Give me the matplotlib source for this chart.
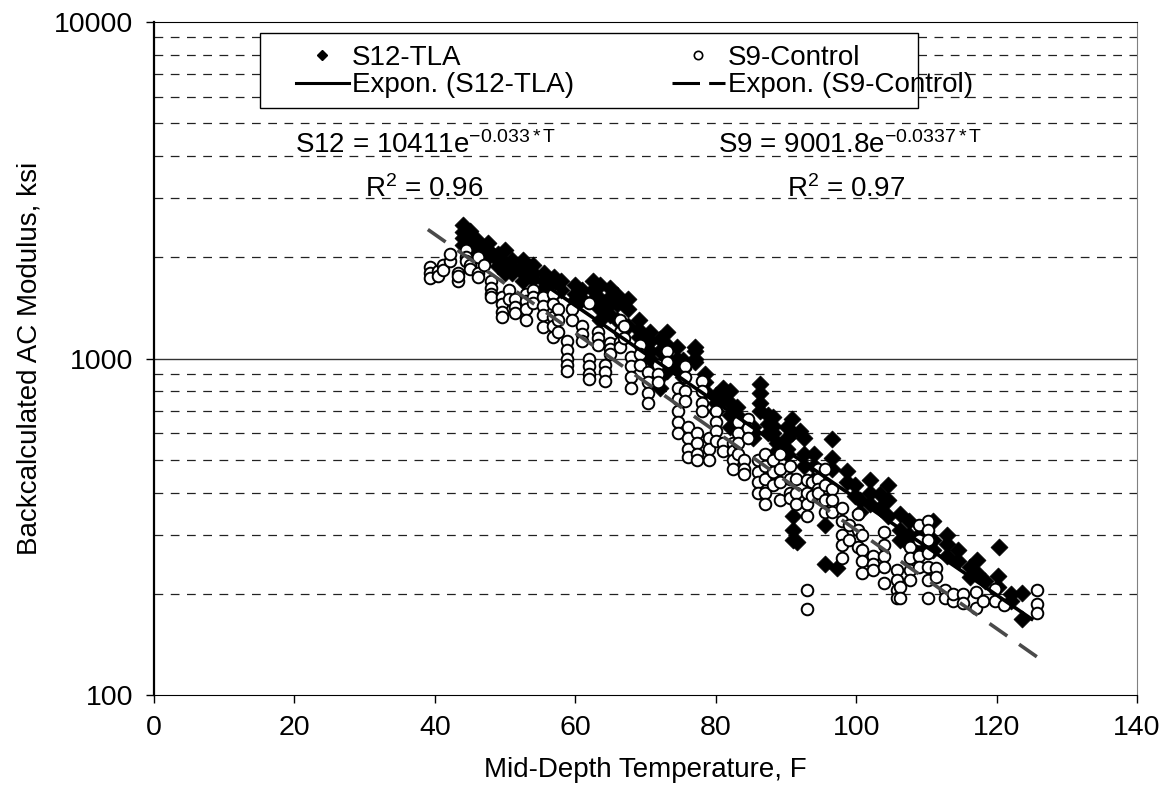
import numpy as np
import matplotlib
matplotlib.use("Agg")
import matplotlib.pyplot as plt
from matplotlib.lines import Line2D
from matplotlib.patches import Rectangle

plt.rcParams['font.family'] = ['Liberation Sans', 'DejaVu Sans']
plt.rcParams['mathtext.fontset'] = 'custom'
plt.rcParams['mathtext.rm'] = 'Liberation Sans'
plt.rcParams['mathtext.it'] = 'Liberation Sans'

# S9-Control: mid-depth temperature (F) -> backcalculated modulus (ksi)
s9_cols = [
    (39.3, [1870, 1800, 1740]), (40.5, [1820, 1760]), (41.2, [1900, 1830]),
    (42.2, [1950, 2050]), (43.3, [1800, 1700, 1760]), (44.5, [2100, 2000, 1950]),
    (45.0, [1900, 1850]), (46.2, [1800, 1750, 2000]), (47.0, [1900]),
    (48.0, [1700, 1620, 1560, 1520]), (49.6, [1520, 1450, 1380, 1330]),
    (50.5, [1600, 1500]), (51.4, [1500, 1420, 1370]), (53.0, [1560, 1480, 1400, 1300]),
    (54.0, [1600, 1520, 1460]), (55.4, [1520, 1430, 1350, 1240]),
    (56.8, [1560, 1450, 1330, 1250, 1160]), (57.5, [1400, 1300, 1200]),
    (58.8, [1130, 1060, 1000, 960, 920]), (59.5, [1400, 1300]), (61.0, [1250, 1180, 1130]),
    (62.0, [1460, 1000, 950, 900, 870]), (63.3, [1200, 1150, 1100]), (64.2, [960, 910, 860]),
    (65.0, [1115, 1070, 1030]), (66.4, [1300, 1200, 1120, 1080]), (67.0, [1250, 1150]),
    (68.0, [1010, 950, 880, 820]), (69.2, [1100, 1030, 960]), (70.4, [910, 850, 790, 740]),
    (71.8, [960, 900, 850]), (73.0, [1050, 980]), (74.6, [820, 760, 700, 650, 600]),
    (75.6, [950, 880, 800, 750]), (76.0, [625, 580, 540, 510]), (77.3, [600, 560, 520, 500]),
    (78.0, [860, 800, 740, 700]), (79.0, [580, 540, 500]), (80.0, [700, 650, 610, 570]),
    (81.0, [560, 530]), (82.5, [560, 530, 500, 470]), (83.2, [650, 600, 560, 520]),
    (84.0, [500, 470, 455]), (84.6, [660, 620, 580]), (86.0, [500, 460, 430, 400]),
    (87.0, [520, 480, 440, 400, 370]), (88.2, [500, 460, 420]), (89.2, [520, 470, 430, 380]),
    (90.6, [480, 440, 400, 385]), (91.5, [440, 400, 370]),
    (93.0, [435, 400, 370, 340, 205, 180]), (93.7, [430, 390]), (94.6, [470, 440, 410, 400]),
    (95.5, [470, 420, 380, 350]), (96.6, [410, 380, 350]), (98.0, [360, 330, 300, 280, 255]),
    (99.0, [320, 290]), (100.3, [345, 310, 275]), (100.9, [300, 270, 250, 230]),
    (102.4, [260, 245, 235]), (104.0, [305, 280, 260, 240, 215]), (105.8, [235, 220, 205, 195]),
    (106.3, [210, 195]), (107.7, [275, 255, 235, 220]), (109.0, [320, 290, 260, 240]),
    (110.3, [330, 310, 290, 265, 240, 220, 195]), (111.3, [238, 225]), (112.7, [205, 195]),
    (113.8, [190, 200]), (115.2, [200, 188]), (117.0, [203, 182]), (118.0, [190]),
    (119.8, [207, 190]), (121.0, [185]), (125.8, [205, 187, 176]),
]

# S12-TLA
s12_cols = [
    (44.0, [2500, 2380, 2280, 2180]), (45.0, [2400, 2300, 2200, 2100]), (46.0, [2250, 2150]),
    (47.5, [2200, 2100, 2000]), (49.0, [2050, 1960, 1880]), (50.0, [2100, 1900, 1800]),
    (51.0, [1960, 1860, 1790]), (52.5, [1960, 1880, 1800, 1700]), (54.0, [1900, 1800, 1720]),
    (55.5, [1800, 1700, 1620]), (57.0, [1750, 1650, 1560]), (58.0, [1700, 1600]),
    (60.0, [1650, 1560, 1490, 1440]), (61.0, [1600, 1500]), (62.5, [1700, 1600, 1490]),
    (63.5, [1650, 1500, 1400, 1300]), (65.0, [1620, 1520, 1450, 1350]), (66.0, [1550, 1450, 1300]),
    (67.5, [1500, 1400, 1250]), (69.0, [1300, 1220, 1160]), (70.7, [1200, 1130, 1050, 1000]),
    (72.0, [1140, 1050, 960, 880, 820]), (73.0, [1200, 1100, 1000, 920]), (74.5, [1080, 1000, 950]),
    (75.4, [990, 930, 880]), (77.0, [1080, 1050, 1000, 980]), (78.5, [900, 850, 800]),
    (80.0, [780, 740, 700]), (81.0, [820, 760]), (82.0, [800, 740, 680, 625]), (83.0, [720, 680]),
    (85.3, [625, 600, 580]), (86.3, [840, 790, 740, 700]), (87.5, [680, 640, 600]),
    (88.2, [670, 630, 600]), (88.7, [560, 530]), (90.2, [625, 580, 540, 520]), (90.8, [660, 600]),
    (91.0, [340, 310, 290]), (91.6, [285]), (92.0, [610]), (92.5, [580, 520, 480]),
    (94.0, [520, 480, 440]), (95.6, [245, 320]), (96.6, [578, 505, 470]), (97.3, [238]),
    (98.7, [465, 430]), (99.9, [420, 390]), (100.6, [380, 350]), (102.0, [435, 400, 370]),
    (103.4, [395, 360]), (104.5, [420, 380, 340]), (106.3, [345, 310, 290]),
    (107.5, [330, 300, 280]), (109.0, [300, 275]), (111.0, [330, 290, 270]),
    (113.0, [300, 282, 260]), (114.5, [270, 250]), (116.2, [240, 225]), (117.2, [252, 230]),
    (118.4, [218]), (120.2, [226, 210]), (120.4, [275]), (122.0, [200, 190]), (123.6, [201, 168]),
]

s12_fit = (10411, -0.033)
s9_fit = (9001.8, -0.0337)


def flatten(cols):
    t = [c[0] for c in cols for _ in c[1]]
    e = [v for c in cols for v in c[1]]
    return np.array(t), np.array(e)


s9_t, s9_e = flatten(s9_cols)
s12_t, s12_e = flatten(s12_cols)

fig = plt.figure(figsize=(11.65, 8.0), dpi=100)
ax = fig.add_axes([0.1322, 0.131, 0.8438, 0.8415])

ax.set_yscale('log')
ax.set_xlim(0, 140)
ax.set_ylim(100, 10000)

# gridlines: solid at the decade, dashed in between
ax.axhline(1000, color='#333333', lw=1.0, zorder=0)
for dec in (100, 1000):
    for k in range(2, 10):
        ax.axhline(dec * k, color='#222222', lw=0.9, ls=(0, (7, 6)), zorder=0)

# S12 first, S9 drawn over it
ax.scatter(s12_t, s12_e, s=75, marker='D', facecolor='black', edgecolor='black',
           linewidth=0.5, zorder=3)
ax.scatter(s9_t, s9_e, s=70, marker='o', facecolor='white', edgecolor='black',
           linewidth=1.4, zorder=4)

tt = np.linspace(44, 125, 100)
ax.plot(tt, s12_fit[0] * np.exp(s12_fit[1] * tt), color='black', lw=2.6, zorder=5)
tt9 = np.linspace(39, 125.8, 100)
ax.plot(tt9, s9_fit[0] * np.exp(s9_fit[1] * tt9), color='#4a4a4a', lw=2.6,
        ls=(0, (6, 4)), zorder=5)

ax.set_xticks(np.arange(0, 141, 20))
ax.set_yticks([100, 1000, 10000])
ax.set_yticklabels(['100', '1000', '10000'])
ax.yaxis.set_minor_locator(matplotlib.ticker.NullLocator())
ax.tick_params(axis='both', direction='out', length=6, width=1, labelsize=20.5)
ax.tick_params(axis='y', pad=9)
ax.tick_params(axis='x', pad=8)

for side in ('top', 'bottom', 'left'):
    ax.spines[side].set_color('black')
ax.spines['left'].set_linewidth(1.6)
ax.spines['right'].set_color('#808080')

ax.set_xlabel('Mid-Depth Temperature, F', fontsize=20, labelpad=12)
ax.set_ylabel('Backcalculated AC Modulus, ksi', fontsize=20, labelpad=8)

# legend: frame drawn separately, one legend per column
ax.add_patch(Rectangle((0.1078, 0.8722), 0.6694, 0.1115, transform=ax.transAxes,
                       facecolor='white', edgecolor='black', lw=1.0, zorder=7))
leg_kw = dict(loc='upper left', frameon=False, fontsize=20, handlelength=1.9,
              handletextpad=0.1, labelspacing=0.05, borderpad=0, borderaxespad=0)
leg1 = ax.legend([Line2D([], [], ls='none', marker='D', ms=5, color='black'),
                  Line2D([], [], color='black', lw=2.2)],
                 ['S12-TLA', 'Expon. (S12-TLA)'],
                 bbox_to_anchor=(0.1445, 0.966), **leg_kw)
leg1.set_zorder(8)
ax.add_artist(leg1)
leg2 = ax.legend([Line2D([], [], ls='none', marker='o', ms=6, mfc='white', mec='black', mew=1.2),
                  Line2D([], [], color='black', lw=2.2, ls=(0, (9, 3)))],
                 ['S9-Control', 'Expon. (S9-Control)'],
                 bbox_to_anchor=(0.527, 0.966), **leg_kw)
leg2.set_zorder(8)

ax.text(0.276, 0.817, r'S12 = 10411e$^{-0.033*T}$', transform=ax.transAxes,
        ha='center', va='center', fontsize=20, zorder=6)
ax.text(0.275, 0.752, r'R$^{2}$ = 0.96', transform=ax.transAxes,
        ha='center', va='center', fontsize=20, zorder=6)
ax.text(0.708, 0.817, r'S9 = 9001.8e$^{-0.0337*T}$', transform=ax.transAxes,
        ha='center', va='center', fontsize=20, zorder=6)
ax.text(0.704, 0.752, r'R$^{2}$ = 0.97', transform=ax.transAxes,
        ha='center', va='center', fontsize=20, zorder=6)

fig.savefig('out.png', dpi=100)
